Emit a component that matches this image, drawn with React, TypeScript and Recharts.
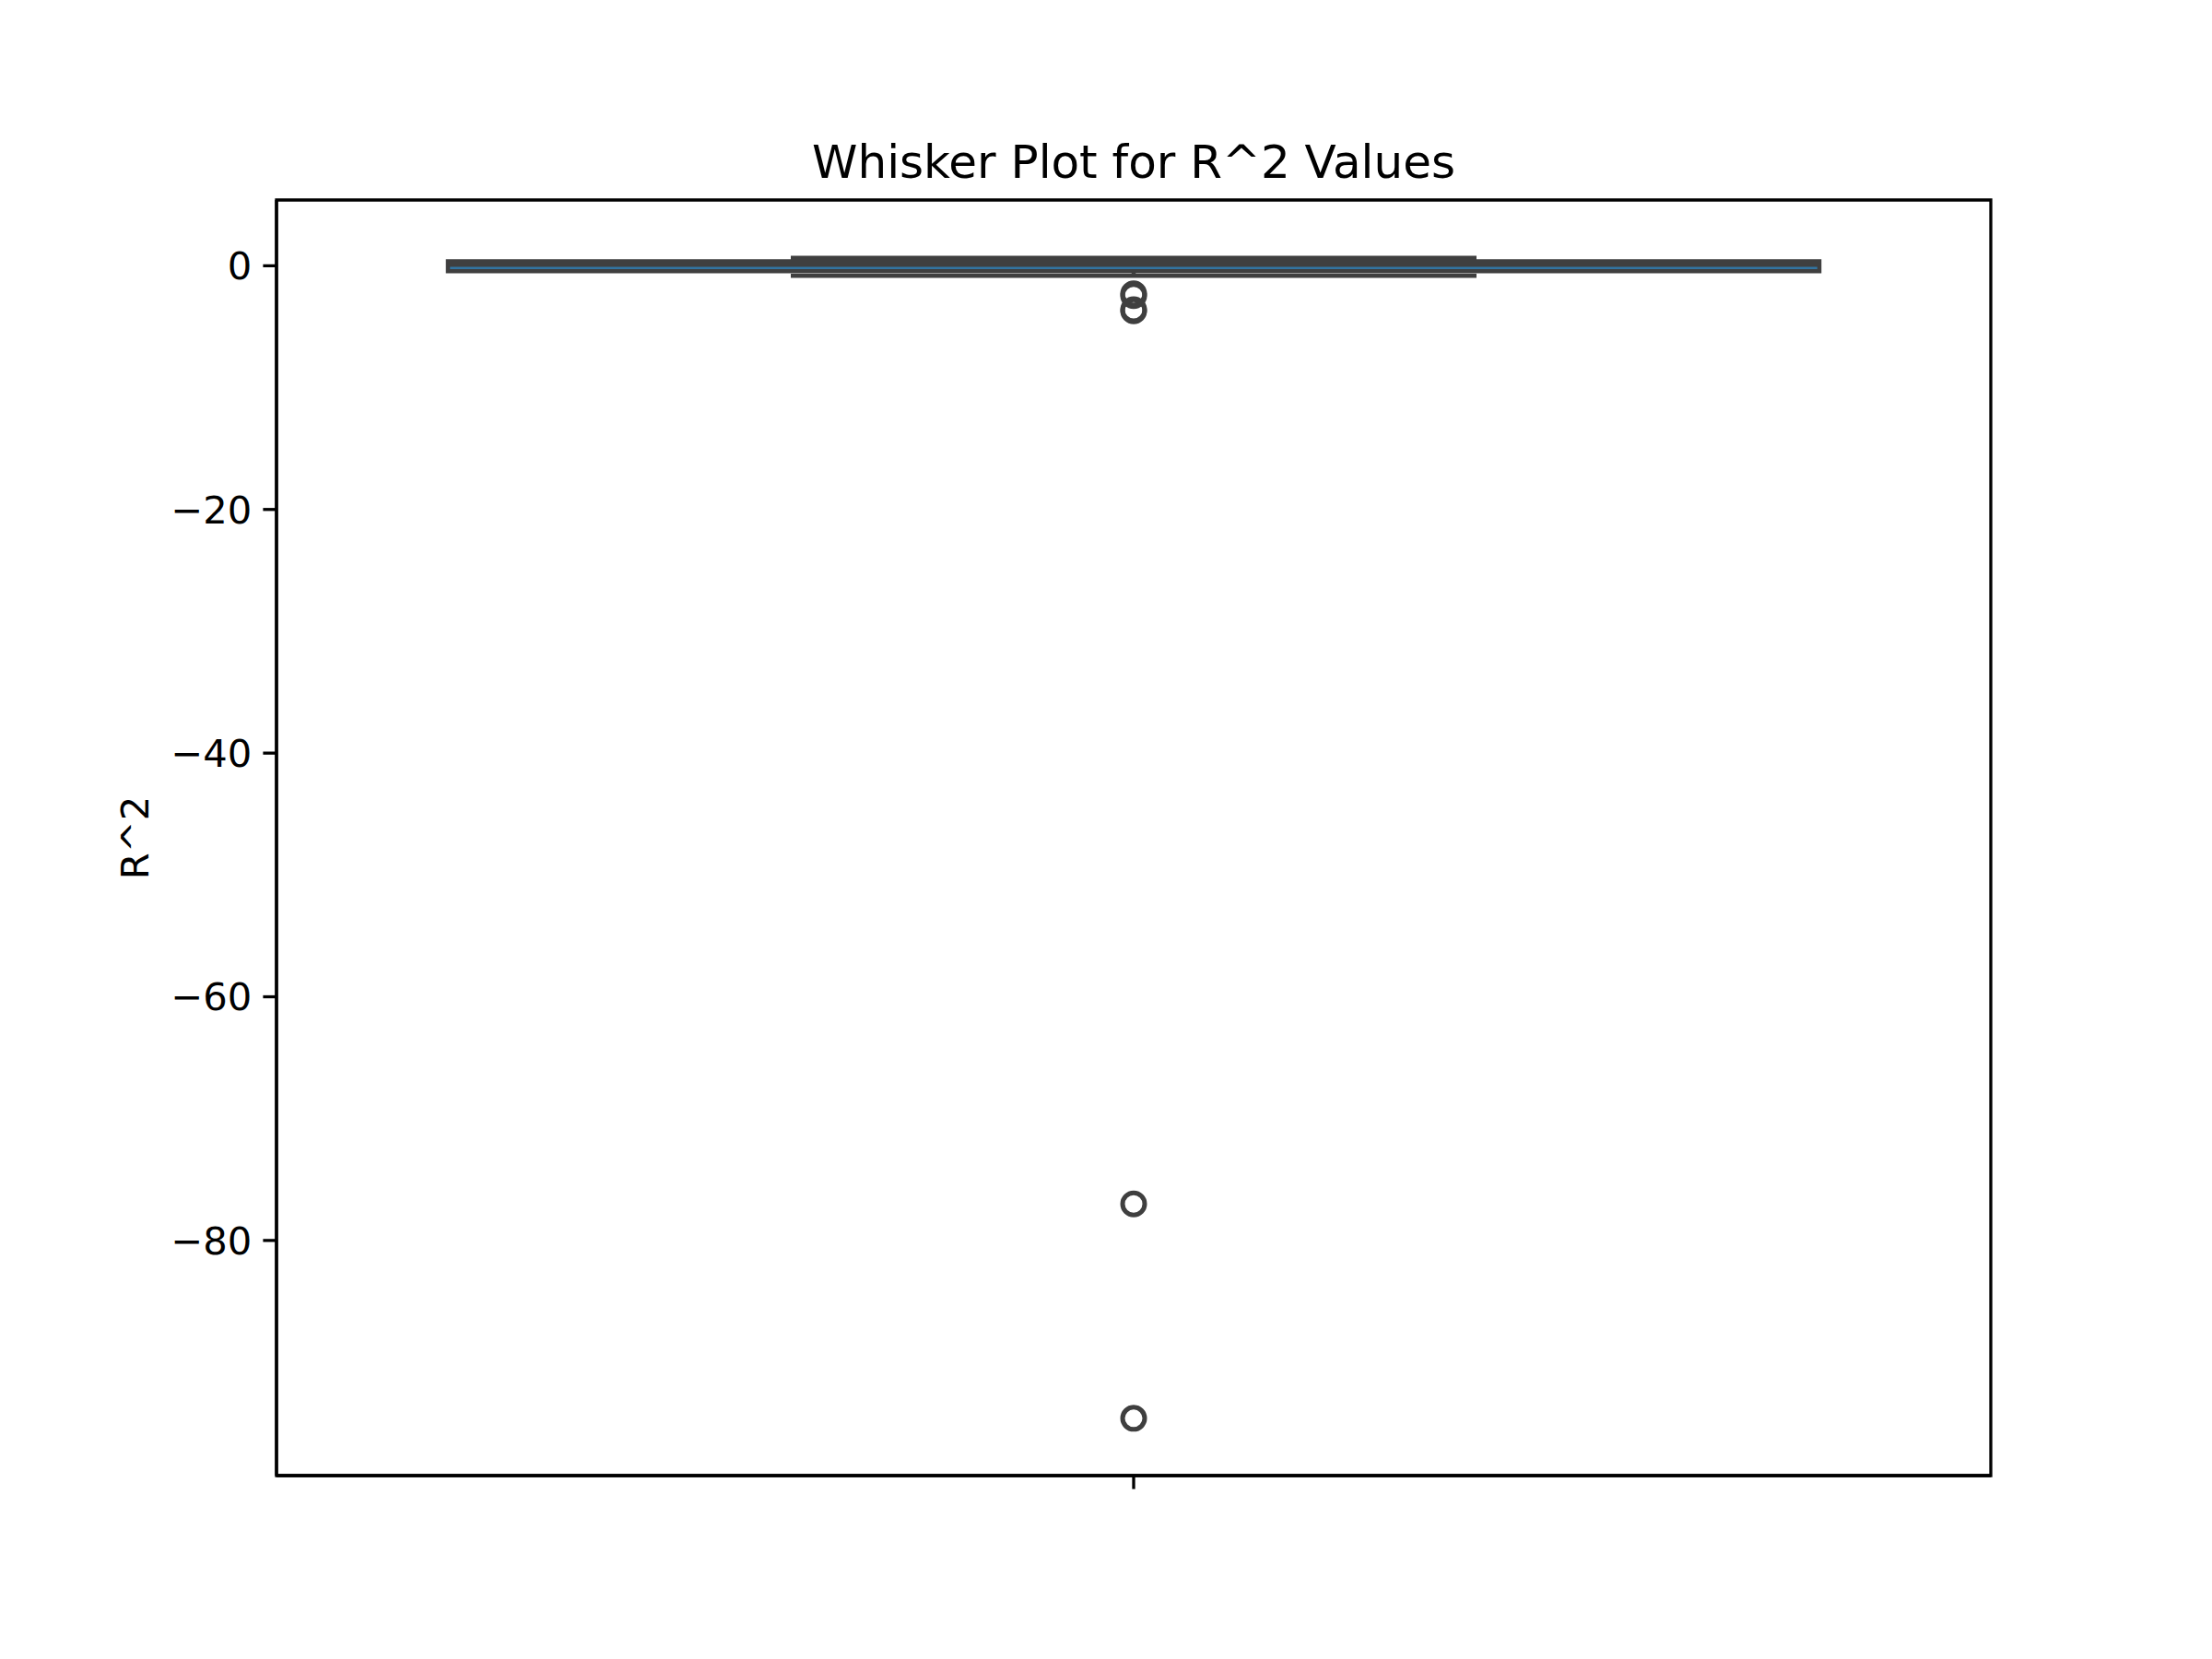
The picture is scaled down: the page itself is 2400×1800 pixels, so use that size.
import React from 'react';
import {
  ComposedChart,
  XAxis,
  YAxis,
  Scatter,
  ReferenceArea,
  ReferenceLine,
} from 'recharts';

// ---- data ----
const category = 'R^2';
const boxStats = { lowerWhisker: -0.83, q1: -0.45, median: 0.08, q3: 0.36, upperWhisker: 0.66 };
const outlierValues = [-2.3, -2.45, -3.6, -3.7, -77.0, -94.6];
const yTicks = [0, -20, -40, -60, -80];
const xTicks = [0];
const title = 'Whisker Plot for R^2 Values';
const yLabel = 'R^2';

// ---- style ----
const W = 2400;
const H = 1800;
const PLOT = { left: 300, right: 2160, top: 217, bottom: 1601 };
const LINE = '#3f3f3f';
const FILL = '#3274a1';
const FONT = '"DejaVu Sans", sans-serif';
const TICK_FS = 41.7;
const SPINE_W = 3.3;
const TICK_LEN = 14.6;
const BOX_LW = 4.5;
const Y_AXIS_W = 120;
const X_AXIS_H = 40;

const outlierData = outlierValues.map((v) => ({ x: 0, y: v }));

const fmt = (v: number) => (v < 0 ? '\u2212' + String(Math.abs(v)) : String(v));

const OutlierShape = (props: any) => {
  const { cx, cy } = props;
  if (cx == null || cy == null) return null;
  return <circle cx={cx} cy={cy} r={12} fill="none" stroke={LINE} strokeWidth={5} />;
};

const seg = (x1: number, y1: number, x2: number, y2: number) => [
  { x: x1, y: y1 },
  { x: x2, y: y2 },
];

export default function App() {
  const s = boxStats;
  return (
    <div style={{ position: 'absolute', left: 0, top: 0, width: W, height: H, background: '#fff' }}>
      <ComposedChart
        width={W}
        height={H}
        data={outlierData}
        margin={{
          top: PLOT.top,
          right: W - PLOT.right,
          bottom: H - PLOT.bottom - X_AXIS_H,
          left: PLOT.left - Y_AXIS_W,
        }}
      >
        <XAxis
          type="number"
          dataKey="x"
          domain={[-0.5, 0.5]}
          ticks={xTicks}
          tickFormatter={() => ''}
          height={X_AXIS_H}
          axisLine={{ stroke: '#000', strokeWidth: SPINE_W }}
          tickLine={{ stroke: '#000', strokeWidth: SPINE_W }}
          tickSize={TICK_LEN}
          allowDataOverflow
          name={category}
        />
        <YAxis
          type="number"
          dataKey="y"
          domain={[-99.3, 5.4]}
          ticks={yTicks}
          tickFormatter={fmt}
          width={Y_AXIS_W}
          axisLine={{ stroke: '#000', strokeWidth: SPINE_W }}
          tickLine={{ stroke: '#000', strokeWidth: SPINE_W }}
          tickSize={TICK_LEN}
          tickMargin={12}
          tick={{ fill: '#000', fontSize: TICK_FS, fontFamily: FONT }}
          allowDataOverflow
          interval={0}
        />
        {/* frame */}
        <ReferenceArea
          x1={-0.5}
          x2={0.5}
          y1={-99.3}
          y2={5.4}
          fill="none"
          fillOpacity={0}
          stroke="#000"
          strokeWidth={SPINE_W}
          ifOverflow="visible"
        />
        {/* whiskers */}
        <ReferenceLine segment={seg(0, s.q3, 0, s.upperWhisker)} stroke={LINE} strokeWidth={BOX_LW} ifOverflow="visible" />
        <ReferenceLine segment={seg(0, s.q1, 0, s.lowerWhisker)} stroke={LINE} strokeWidth={BOX_LW} ifOverflow="visible" />
        {/* caps */}
        <ReferenceLine segment={seg(-0.2, s.upperWhisker, 0.2, s.upperWhisker)} stroke={LINE} strokeWidth={BOX_LW} ifOverflow="visible" />
        <ReferenceLine segment={seg(-0.2, s.lowerWhisker, 0.2, s.lowerWhisker)} stroke={LINE} strokeWidth={BOX_LW} ifOverflow="visible" />
        {/* box */}
        <ReferenceArea
          x1={-0.4}
          x2={0.4}
          y1={s.q1}
          y2={s.q3}
          fill={FILL}
          fillOpacity={1}
          stroke={LINE}
          strokeWidth={BOX_LW}
          ifOverflow="visible"
        />
        {/* median */}
        <ReferenceLine segment={seg(-0.4, s.median, 0.4, s.median)} stroke={LINE} strokeWidth={BOX_LW} ifOverflow="visible" />
        {/* outliers */}
        <Scatter data={outlierData} dataKey="y" isAnimationActive={false} shape={OutlierShape} />
      </ComposedChart>
      <svg
        width={W}
        height={H}
        style={{ position: 'absolute', left: 0, top: 0, pointerEvents: 'none' }}
      >
        <text
          x={(PLOT.left + PLOT.right) / 2}
          y={193}
          textAnchor="middle"
          fontFamily={FONT}
          fontSize={50}
          fill="#000"
        >
          {title}
        </text>
        <text
          x={0}
          y={0}
          transform={`translate(161, ${(PLOT.top + PLOT.bottom) / 2}) rotate(-90)`}
          textAnchor="middle"
          fontFamily={FONT}
          fontSize={TICK_FS}
          fill="#000"
        >
          {yLabel}
        </text>
      </svg>
    </div>
  );
}
